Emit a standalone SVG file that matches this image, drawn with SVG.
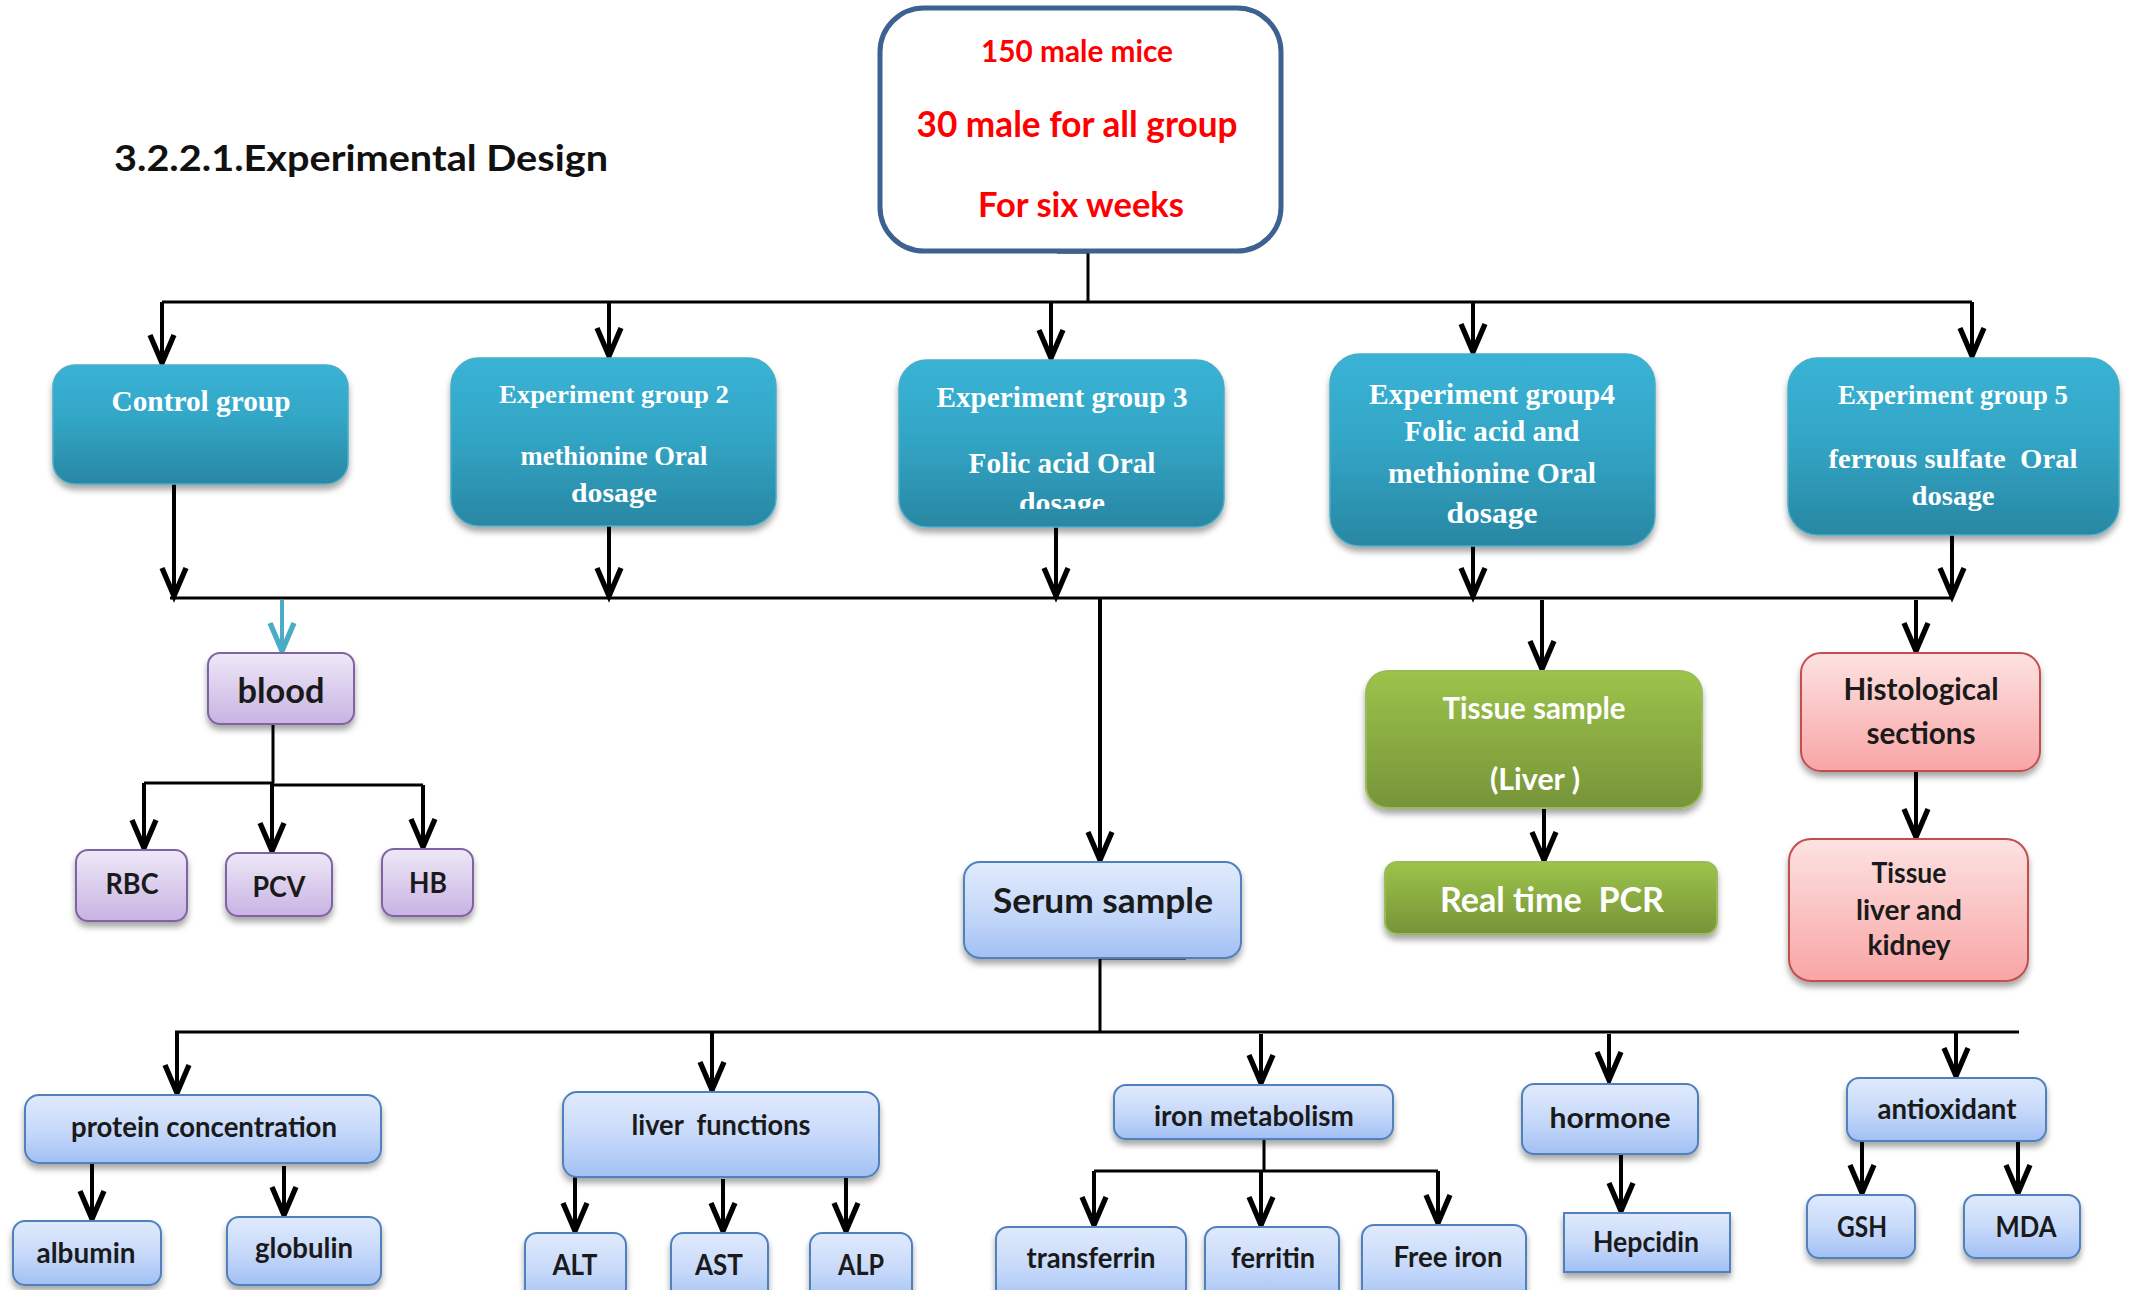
<svg xmlns="http://www.w3.org/2000/svg" width="2130" height="1290" viewBox="0 0 2130 1290">
<style>
.ttl{font-family:"Lato","Liberation Sans",sans-serif;font-weight:bold;fill:#111}
.red{font-family:"Lato","Liberation Sans",sans-serif;font-weight:bold;fill:#ff0000;text-anchor:middle}
.grp{font-family:"Liberation Serif","Times New Roman",serif;font-weight:bold;fill:#ffffff;text-anchor:middle}
.lbl{font-family:"Lato","Liberation Sans",sans-serif;font-weight:bold;fill:#1a1a1a;text-anchor:middle}
.wlbl{font-family:"Lato","Liberation Sans",sans-serif;font-weight:bold;fill:#ffffff;text-anchor:middle}
.pre{white-space:pre}
.teal{fill:url(#gTeal);stroke:#4bacc6;stroke-width:1.5;filter:url(#sh)}
.blue{fill:url(#gBlue);stroke:#4f81bd;stroke-width:2;filter:url(#sh)}
.purp{fill:url(#gPurp);stroke:#8064a2;stroke-width:2;filter:url(#sh)}
.green{fill:url(#gGreen);stroke:#9bbb59;stroke-width:2;filter:url(#sh)}
.pink{fill:url(#gRed);stroke:#c0504d;stroke-width:2;filter:url(#sh)}
.ln{fill:none;stroke:#000;stroke-width:3}
.ar{fill:none;stroke:#000;stroke-width:4;marker-end:url(#ah)}
.art{fill:none;stroke:#4bacc6;stroke-width:4;marker-end:url(#aht)}
</style>
<defs>
<linearGradient id="gTeal" x1="0" y1="0" x2="0" y2="1"><stop offset="0" stop-color="#39b3d6"/><stop offset="0.45" stop-color="#33a6c6"/><stop offset="1" stop-color="#2887a3"/></linearGradient>
<linearGradient id="gBlue" x1="0" y1="0" x2="0" y2="1"><stop offset="0" stop-color="#e0eafc"/><stop offset="0.5" stop-color="#c8dafa"/><stop offset="1" stop-color="#a2c0f4"/></linearGradient>
<linearGradient id="gPurp" x1="0" y1="0" x2="0" y2="1"><stop offset="0" stop-color="#eee8f7"/><stop offset="1" stop-color="#c8b3e3"/></linearGradient>
<linearGradient id="gGreen" x1="0" y1="0" x2="0" y2="1"><stop offset="0" stop-color="#9dc34a"/><stop offset="1" stop-color="#769439"/></linearGradient>
<linearGradient id="gRed" x1="0" y1="0" x2="0" y2="1"><stop offset="0" stop-color="#fde2e2"/><stop offset="1" stop-color="#f9a5a5"/></linearGradient>
<filter id="sh" x="-10%" y="-10%" width="120%" height="130%"><feDropShadow dx="0" dy="5" stdDeviation="3" flood-color="#000" flood-opacity="0.35"/></filter>
<marker id="ah" markerUnits="userSpaceOnUse" markerWidth="40" markerHeight="40" viewBox="-25 -15 30 30" refX="0" refY="0" orient="auto" overflow="visible"><path d="M-21,-9 L0,0 L-21,9" fill="none" stroke="#000" stroke-width="4"/></marker>
<marker id="aht" markerUnits="userSpaceOnUse" markerWidth="40" markerHeight="40" viewBox="-25 -15 30 30" refX="0" refY="0" orient="auto" overflow="visible"><path d="M-21,-9 L0,0 L-21,9" fill="none" stroke="#4bacc6" stroke-width="4"/></marker>
<clipPath id="clip3"><rect x="899" y="360" width="325" height="149"/></clipPath>
</defs>
<rect width="2130" height="1290" fill="#ffffff"/>

<text class="ttl" x="114" y="171" font-size="36" textLength="494" lengthAdjust="spacingAndGlyphs">3.2.2.1.Experimental Design</text>

<g id="connectors">
<path class="ln" d="M1057,252 H1088 V302"/>
<path class="ln" d="M162,302 H1972"/>
<path class="ar" d="M162,302 V363"/>
<path class="ar" d="M609,302 V356"/>
<path class="ar" d="M1051,302 V358"/>
<path class="ar" d="M1473,302 V352"/>
<path class="ar" d="M1972,302 V356"/>
<path class="ln" d="M170,598 H1952"/>
<path class="ar" d="M174,484 V596"/>
<path class="ar" d="M609,526 V596"/>
<path class="ar" d="M1056,527 V596"/>
<path class="ar" d="M1473,546 V596"/>
<path class="ar" d="M1952,535 V596"/>
<path class="art" d="M282,600 V651"/>
<path class="ar" d="M1100,598 V860"/>
<path class="ar" d="M1542,600 V669"/>
<path class="ar" d="M1916,600 V651"/>
<path class="ar" d="M1544,808 V860"/>
<path class="ar" d="M1916,771 V837"/>
<path class="ln" d="M273,724 V783 M144,783 H273 M273,785 H423"/>
<path class="ar" d="M144,783 V848"/>
<path class="ar" d="M272,783 V851"/>
<path class="ar" d="M423,785 V847"/>
<path class="ln" d="M1186,958 H1100 V1032"/>
<path class="ln" d="M175,1032 H2019"/>
<path class="ar" d="M177,1032 V1093"/>
<path class="ar" d="M712,1032 V1090"/>
<path class="ar" d="M1261,1034 V1083"/>
<path class="ar" d="M1609,1034 V1080"/>
<path class="ar" d="M1956,1032 V1076"/>
<path class="ar" d="M92,1163 V1219"/>
<path class="ar" d="M284,1166 V1215"/>
<path class="ar" d="M575,1177 V1231"/>
<path class="ar" d="M723,1179 V1231"/>
<path class="ar" d="M846,1177 V1231"/>
<path class="ln" d="M1264,1132 V1171 M1094,1171 H1438"/>
<path class="ar" d="M1094,1171 V1225"/>
<path class="ar" d="M1261,1171 V1225"/>
<path class="ar" d="M1438,1171 V1223"/>
<path class="ar" d="M1621,1154 V1211"/>
<path class="ar" d="M1862,1141 V1193"/>
<path class="ar" d="M2018,1141 V1193"/>
</g>

<g id="n-top">
<rect x="880" y="8" width="401" height="243" rx="44" fill="#ffffff" stroke="#3d6190" stroke-width="5"/>
<text class="red" x="1077" y="62" font-size="31" textLength="192" lengthAdjust="spacingAndGlyphs">150 male mice</text>
<text class="red" x="1077" y="137" font-size="36" textLength="321" lengthAdjust="spacingAndGlyphs">30 male for all group</text>
<text class="red" x="1081" y="217" font-size="35" textLength="206" lengthAdjust="spacingAndGlyphs">For six weeks</text>
</g>

<g id="n-control">
<rect class="teal" x="53" y="365" width="295" height="119" rx="22"/>
<text class="grp" x="201" y="411" font-size="29" textLength="179" lengthAdjust="spacingAndGlyphs">Control group</text>
</g>
<g id="n-group2">
<rect class="teal" x="451" y="358" width="325" height="168" rx="28"/>
<text class="grp" x="614" y="403" font-size="26" textLength="230" lengthAdjust="spacingAndGlyphs">Experiment group 2</text>
<text class="grp" x="614" y="465" font-size="27" textLength="187" lengthAdjust="spacingAndGlyphs">methionine Oral</text>
<text class="grp" x="614" y="502" font-size="27" textLength="86" lengthAdjust="spacingAndGlyphs">dosage</text>
</g>
<g id="n-group3">
<rect class="teal" x="899" y="360" width="325" height="167" rx="28"/>
<text class="grp" x="1062" y="407" font-size="29" textLength="251" lengthAdjust="spacingAndGlyphs">Experiment group 3</text>
<text class="grp" x="1062" y="473" font-size="29" textLength="187" lengthAdjust="spacingAndGlyphs">Folic acid Oral</text>
<text class="grp" x="1062" y="513" font-size="29" textLength="86" lengthAdjust="spacingAndGlyphs" clip-path="url(#clip3)">dosage</text>
</g>
<g id="n-group4">
<rect class="teal" x="1330" y="354" width="325" height="192" rx="30"/>
<text class="grp" x="1492" y="404" font-size="30" textLength="246" lengthAdjust="spacingAndGlyphs">Experiment group4</text>
<text class="grp" x="1492" y="441" font-size="30" textLength="175" lengthAdjust="spacingAndGlyphs">Folic acid and</text>
<text class="grp" x="1492" y="483" font-size="30" textLength="208" lengthAdjust="spacingAndGlyphs">methionine Oral</text>
<text class="grp" x="1492" y="523" font-size="30" textLength="91" lengthAdjust="spacingAndGlyphs">dosage</text>
</g>
<g id="n-group5">
<rect class="teal" x="1788" y="358" width="331" height="177" rx="30"/>
<text class="grp" x="1953" y="404" font-size="27" textLength="230" lengthAdjust="spacingAndGlyphs">Experiment group 5</text>
<text class="grp pre" x="1953" y="468" font-size="27" textLength="249" lengthAdjust="spacingAndGlyphs">ferrous sulfate  Oral</text>
<text class="grp" x="1953" y="505" font-size="27" textLength="83" lengthAdjust="spacingAndGlyphs">dosage</text>
</g>

<g id="n-blood">
<rect class="purp" x="208" y="653" width="146" height="71" rx="12"/>
<text class="lbl" x="281" y="703" font-size="34" textLength="87" lengthAdjust="spacingAndGlyphs">blood</text>
</g>
<g id="n-rbc">
<rect class="purp" x="76" y="850" width="111" height="71" rx="12"/>
<text class="lbl" x="132" y="894" font-size="28" textLength="53" lengthAdjust="spacingAndGlyphs">RBC</text>
</g>
<g id="n-pcv">
<rect class="purp" x="226" y="853" width="106" height="63" rx="12"/>
<text class="lbl" x="279" y="897" font-size="28" textLength="53" lengthAdjust="spacingAndGlyphs">PCV</text>
</g>
<g id="n-hb">
<rect class="purp" x="382" y="849" width="91" height="67" rx="12"/>
<text class="lbl" x="428" y="893" font-size="28" textLength="38" lengthAdjust="spacingAndGlyphs">HB</text>
</g>

<g id="n-serum">
<rect class="blue" x="964" y="862" width="277" height="96" rx="16"/>
<text class="lbl" x="1103" y="913" font-size="34" textLength="220" lengthAdjust="spacingAndGlyphs">Serum sample</text>
</g>

<g id="n-tissue">
<rect class="green" x="1366" y="671" width="336" height="137" rx="22"/>
<text class="wlbl" x="1534" y="719" font-size="30" textLength="183" lengthAdjust="spacingAndGlyphs">Tissue sample</text>
<text class="wlbl" x="1535" y="790" font-size="30" textLength="90" lengthAdjust="spacingAndGlyphs">(Liver )</text>
</g>
<g id="n-pcr">
<rect class="green" x="1385" y="862" width="332" height="72" rx="12"/>
<text class="wlbl pre" x="1552" y="912" font-size="34" textLength="224" lengthAdjust="spacingAndGlyphs">Real time  PCR</text>
</g>

<g id="n-hist">
<rect class="pink" x="1801" y="653" width="239" height="118" rx="20"/>
<text class="lbl" x="1921" y="700" font-size="30" textLength="155" lengthAdjust="spacingAndGlyphs">Histological</text>
<text class="lbl" x="1921" y="744" font-size="30" textLength="109" lengthAdjust="spacingAndGlyphs">sections</text>
</g>
<g id="n-tissue-lk">
<rect class="pink" x="1789" y="839" width="239" height="142" rx="22"/>
<text class="lbl" x="1909" y="883" font-size="28" textLength="75" lengthAdjust="spacingAndGlyphs">Tissue</text>
<text class="lbl" x="1909" y="920" font-size="28" textLength="106" lengthAdjust="spacingAndGlyphs">liver and</text>
<text class="lbl" x="1909" y="955" font-size="28" textLength="83" lengthAdjust="spacingAndGlyphs">kidney</text>
</g>

<g id="n-protein">
<rect class="blue" x="25" y="1095" width="356" height="68" rx="14"/>
<text class="lbl" x="204" y="1137" font-size="28" textLength="266" lengthAdjust="spacingAndGlyphs">protein concentration</text>
</g>
<g id="n-albumin">
<rect class="blue" x="13" y="1221" width="148" height="64" rx="12"/>
<text class="lbl" x="86" y="1263" font-size="28" textLength="99" lengthAdjust="spacingAndGlyphs">albumin</text>
</g>
<g id="n-globulin">
<rect class="blue" x="227" y="1217" width="154" height="68" rx="12"/>
<text class="lbl" x="304" y="1258" font-size="28" textLength="98" lengthAdjust="spacingAndGlyphs">globulin</text>
</g>

<g id="n-liver">
<rect class="blue" x="563" y="1092" width="316" height="85" rx="14"/>
<text class="lbl pre" x="721" y="1135" font-size="28" textLength="179" lengthAdjust="spacingAndGlyphs">liver  functions</text>
</g>
<g id="n-alt">
<rect class="blue" x="525" y="1233" width="101" height="72" rx="12"/>
<text class="lbl" x="575" y="1275" font-size="28" textLength="45" lengthAdjust="spacingAndGlyphs">ALT</text>
</g>
<g id="n-ast">
<rect class="blue" x="671" y="1233" width="97" height="72" rx="12"/>
<text class="lbl" x="719" y="1275" font-size="28" textLength="48" lengthAdjust="spacingAndGlyphs">AST</text>
</g>
<g id="n-alp">
<rect class="blue" x="810" y="1233" width="102" height="72" rx="12"/>
<text class="lbl" x="861" y="1275" font-size="28" textLength="46" lengthAdjust="spacingAndGlyphs">ALP</text>
</g>

<g id="n-iron">
<rect class="blue" x="1114" y="1085" width="279" height="54" rx="12"/>
<text class="lbl" x="1254" y="1126" font-size="28" textLength="200" lengthAdjust="spacingAndGlyphs">iron metabolism</text>
</g>
<g id="n-transferrin">
<rect class="blue" x="996" y="1227" width="190" height="78" rx="12"/>
<text class="lbl" x="1091" y="1268" font-size="28" textLength="129" lengthAdjust="spacingAndGlyphs">transferrin</text>
</g>
<g id="n-ferritin">
<rect class="blue" x="1205" y="1227" width="134" height="78" rx="12"/>
<text class="lbl" x="1273" y="1268" font-size="28" textLength="84" lengthAdjust="spacingAndGlyphs">ferritin</text>
</g>
<g id="n-freeiron">
<rect class="blue" x="1362" y="1225" width="164" height="80" rx="12"/>
<text class="lbl" x="1448" y="1267" font-size="28" textLength="109" lengthAdjust="spacingAndGlyphs">Free iron</text>
</g>

<g id="n-hormone">
<rect class="blue" x="1522" y="1084" width="176" height="70" rx="12"/>
<text class="lbl" x="1610" y="1128" font-size="29" textLength="121" lengthAdjust="spacingAndGlyphs">hormone</text>
</g>
<g id="n-hepcidin">
<rect class="blue" x="1564" y="1213" width="166" height="59"/>
<text class="lbl" x="1646" y="1252" font-size="28" textLength="106" lengthAdjust="spacingAndGlyphs">Hepcidin</text>
</g>

<g id="n-antioxidant">
<rect class="blue" x="1847" y="1078" width="199" height="63" rx="12"/>
<text class="lbl" x="1947" y="1119" font-size="28" textLength="139" lengthAdjust="spacingAndGlyphs">antioxidant</text>
</g>
<g id="n-gsh">
<rect class="blue" x="1807" y="1195" width="108" height="63" rx="12"/>
<text class="lbl" x="1862" y="1237" font-size="28" textLength="50" lengthAdjust="spacingAndGlyphs">GSH</text>
</g>
<g id="n-mda">
<rect class="blue" x="1964" y="1195" width="116" height="63" rx="12"/>
<text class="lbl" x="2026" y="1237" font-size="28" textLength="61" lengthAdjust="spacingAndGlyphs">MDA</text>
</g>
</svg>
